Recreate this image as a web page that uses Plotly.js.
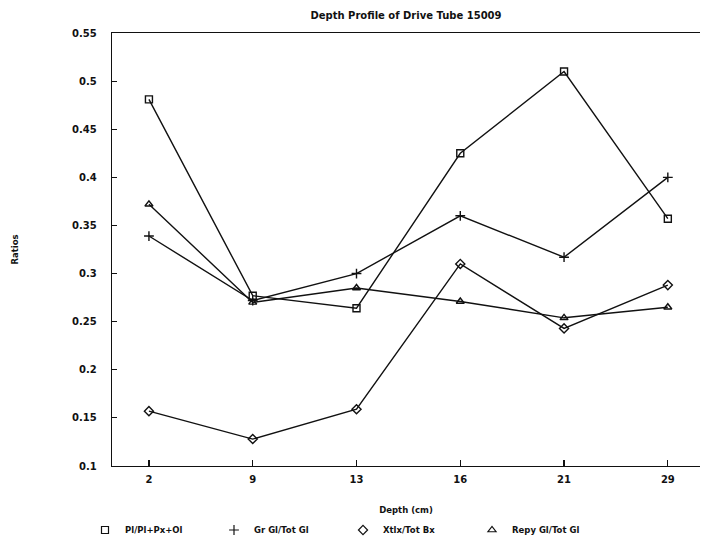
<!DOCTYPE html>
<html><head><meta charset="utf-8">
<script src="https://cdn.plot.ly/plotly-3.0.1.min.js"></script>
<style>html,body{margin:0;padding:0;background:#fff}</style>
</head><body>
<div id="chart" style="width:704px;height:540px"></div>
<script>
const depths = ["2", "9", "13", "16", "21", "29"];
const plRatio = [0.481, 0.277, 0.264, 0.425, 0.510, 0.357];
const grGlRatio = [0.339, 0.272, 0.300, 0.360, 0.317, 0.400];
const xtlxBxRatio = [0.157, 0.128, 0.159, 0.310, 0.243, 0.288];
const repyGlRatio = [0.372, 0.270, 0.285, 0.271, 0.254, 0.265];
const seriesNames = ["Pl/Pl+Px+Ol", "Gr Gl/Tot Gl", "Xtlx/Tot Bx", "Repy Gl/Tot Gl"];
const yTickVals = [0.1, 0.15, 0.2, 0.25, 0.3, 0.35, 0.4, 0.45, 0.5, 0.55];
const yTickText = ["0.1", "0.15", "0.2", "0.25", "0.3", "0.35", "0.4", "0.45", "0.5", "0.55"];

const seriesData = [plRatio, grGlRatio, xtlxBxRatio, repyGlRatio];
const symbols = ["square-open", "cross-thin-open", "diamond-open", "triangle-up-open"];

const traces = [];
seriesData.forEach((vals, i) => {
  traces.push({
    x: depths, y: vals, type: "scatter", mode: "lines+markers",
    name: seriesNames[i], showlegend: false,
    line: {color: "#111", width: 1.4},
    marker: {symbol: symbols[i], size: 7, color: "#111", line: {color: "#111", width: 1.4}}
  });
});
seriesData.forEach((vals, i) => {
  traces.push({
    x: [null], y: [null], type: "scatter", mode: "markers",
    name: seriesNames[i], showlegend: true,
    marker: {symbol: symbols[i], size: 7, color: "#111", line: {color: "#111", width: 1.2}}
  });
});

const fam = "DejaVu Sans, Liberation Sans, sans-serif";
const tickFont = {family: fam, size: 10, color: "#111", weight: "bold"};

const layout = {
  width: 704, height: 540,
  margin: {l: 112, r: 4, t: 33, b: 74},
  paper_bgcolor: "#fff", plot_bgcolor: "#fff",
  font: tickFont,
  title: {text: "Depth Profile of Drive Tube 15009", font: {family: fam, size: 10, color: "#111", weight: "bold"},
          x: 0.5, xref: "paper", y: 1 - 15/540, yref: "container", yanchor: "middle"},
  xaxis: {
    type: "category", range: [-0.356, 5.31],
    showline: true, linecolor: "#111", linewidth: 1.3, mirror: true,
    ticks: "inside", ticklen: 6, tickcolor: "#111", tickwidth: 1.2,
    showgrid: false, zeroline: false, ticklabelstandoff: 4,
    tickfont: tickFont,
    title: {text: "Depth (cm)", font: {family: fam, size: 8.5, color: "#111", weight: "bold"}, standoff: 22}
  },
  yaxis: {
    range: [0.1, 0.55], tickvals: yTickVals, ticktext: yTickText,
    showline: true, linecolor: "#111", linewidth: 1.3, mirror: false,
    ticks: "inside", ticklen: 5, tickcolor: "#111", tickwidth: 1.2,
    showgrid: false, zeroline: false, ticklabelstandoff: 12,
    tickfont: tickFont,
    title: {text: "Ratios", font: {family: fam, size: 8.5, color: "#111", weight: "bold"}, standoff: 52}
  },
  legend: {
    orientation: "h", xref: "container", x: 85 / 704, xanchor: "left",
    yref: "container", y: 1 - 530 / 540, yanchor: "middle",
    entrywidth: 84, entrywidthmode: "pixels",
    font: {family: fam, size: 8.5, color: "#111", weight: "bold"},
    bgcolor: "rgba(0,0,0,0)"
  }
};

Plotly.newPlot("chart", traces, layout, {displayModeBar: false, staticPlot: true});
</script>
</body></html>
